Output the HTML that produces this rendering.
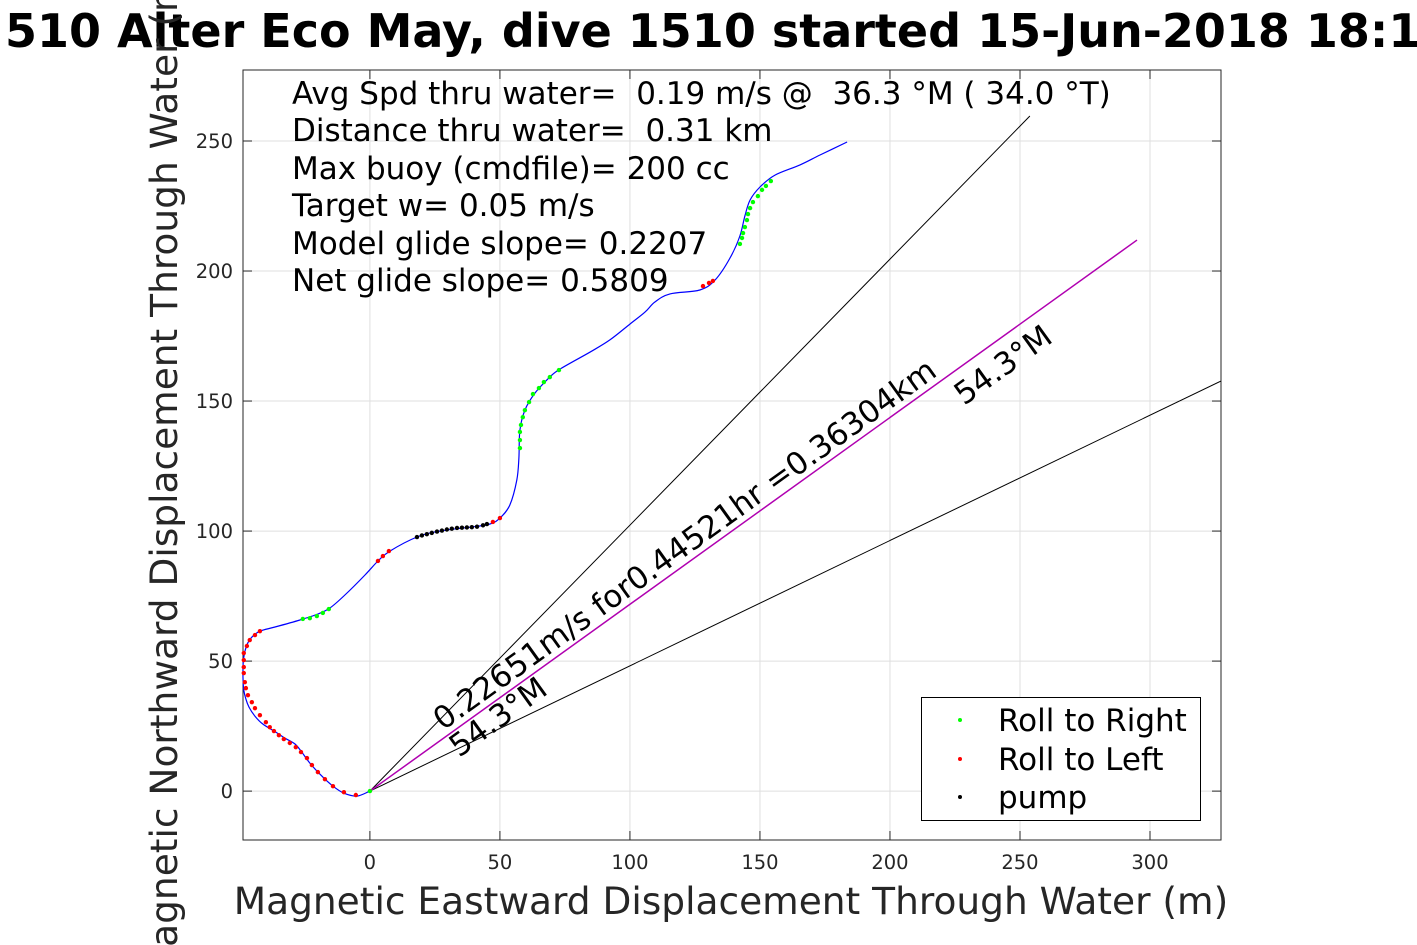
<!DOCTYPE html>
<html><head><meta charset="utf-8"><style>
body{margin:0;background:#fff;}
svg{display:block;}
text{white-space:pre;}
</style></head><body>
<svg id="chart" width="1417" height="945" viewBox="0 0 1417 945" font-family="DejaVu Sans, Liberation Sans, sans-serif">
<text x="5" y="47" font-size="46" font-weight="bold" fill="#000">510 Alter Eco May, dive 1510 started 15-Jun-2018 18:1</text>
<g id="grid"></g>
<g id="axes"></g>
<g id="marks"></g>
<g font-size="31" fill="#000" xml:space="preserve">
<text x="292" y="104">Avg Spd thru water=  0.19 m/s @  36.3 °M ( 34.0 °T)</text>
<text x="292" y="141">Distance thru water=  0.31 km</text>
<text x="292" y="179">Max buoy (cmdfile)= 200 cc</text>
<text x="292" y="216">Target w= 0.05 m/s</text>
<text x="292" y="254">Model glide slope= 0.2207</text>
<text x="292" y="291">Net glide slope= 0.5809</text>
</g>
<text transform="translate(443,731) rotate(-35.7)" font-size="31">0.22651m/s for0.44521hr =0.36304km</text>
<text transform="translate(459,758) rotate(-35.7)" font-size="31">54.3°M</text>
<text transform="translate(964,406) rotate(-35.7)" font-size="31">54.3°M</text>
<text transform="translate(177,470) rotate(-90)" text-anchor="middle" font-size="37.5" fill="#262626">Magnetic Northward Displacement Through Water (m)</text>
<text x="731" y="914" text-anchor="middle" font-size="37.5" fill="#262626">Magnetic Eastward Displacement Through Water (m)</text>
<g>
<rect x="921.5" y="697.5" width="279" height="123" fill="#fff" stroke="#000" stroke-width="1"/>
<g><circle cx="960" cy="720" r="2" fill="#00ff00"/><text x="998" y="731" font-size="31">Roll to Right</text></g>
<g><circle cx="960" cy="759" r="2" fill="#ff0000"/><text x="998" y="770" font-size="31">Roll to Left</text></g>
<g><circle cx="960" cy="797" r="2" fill="#000"/><text x="998" y="808" font-size="31">pump</text></g>
</g>
</svg>
<script>
const xTicks=[0,50,100,150,200,250,300];
const yTicks=[0,50,100,150,200,250];
const trackX=[0,-5,-10,-14.2,-19.2,-23.1,-26.2,-28.8,-32.7,-36.2,-41.2,-44.2,-46.5,-47.7,-48.5,-48.8,-48.8,-48.5,-47.3,-45.4,-42.3,-36.5,-26.9,-20,-15.4,-9.6,-1.9,3.1,7.7,18.1,26.9,38.5,46.2,50,53.8,56.5,57.3,57.7,59.6,63.5,69.2,73.1,84.6,92.3,100,105.8,109.6,115.4,126.9,132.7,138.5,142.3,144.2,146.2,150,155.8,165.4,173.1,183.5];
const trackY=[0,-1.9,-0.8,1.9,6.5,10.8,15,18.1,20.4,22.7,25.8,28.8,32.3,35.4,38.8,43.5,47.3,51.5,56.2,59.2,61.5,63.1,65.8,68.1,70.4,75.4,83.1,88.5,92.3,97.7,100,101.5,102.7,105,110,119.6,128.1,138.8,146.5,153.1,159.2,162.3,168.8,173.5,179.6,184.2,188.1,191.2,192.7,196.5,205,213.5,221.2,227.3,232.3,236.9,240.8,244.6,249.6];
const redX=[-5.4,-10,-14.2,-17.3,-20,-22.3,-24.2,-26.5,-28.5,-30.8,-33.1,-35,-36.9,-38.5,-40,-42.3,-44.2,-45.4,-46.9,-47.7,-48.1,-48.5,-48.5,-48.5,-48.5,-47.3,-46.2,-44.2,-42.3,3.1,5,7.3,47.3,50,128.1,130.4,131.9];
const redY=[-1.5,-0.4,1.9,4.6,7.3,10,12.7,15,16.9,18.5,20,21.5,23.1,24.6,26.5,29.2,31.9,34.2,36.9,39.6,41.9,45.4,47.7,50.4,53.1,55.8,58.1,60,61.5,88.5,90.4,92.3,103.5,105,194.2,195.4,196.2];
const greenX=[0,-25.8,-23.1,-20.4,-18.1,-15.8,57.7,57.7,57.7,58.1,58.8,59.6,61.2,62.7,65,66.9,69.2,72.7,142.3,143.1,143.5,144.2,145,145.4,146.2,147.3,149.2,150.8,152.3,154.2];
const greenY=[0,66.2,66.5,67.3,68.5,70,131.9,135,138.1,140.8,143.8,146.5,149.6,152.7,155,157.3,159.2,161.9,210.4,212.7,214.6,216.9,219.6,221.9,224.2,226.5,228.8,231.2,232.7,234.6];
const pumpX=[18.1,20,21.9,23.8,25.8,27.7,29.6,31.5,33.5,35.4,37.3,39.2,41.2,43.5,45];
const pumpY=[97.7,98.3,98.8,99.3,99.8,100.2,100.6,100.9,101.2,101.3,101.4,101.5,101.7,102.2,102.7];
const lineEndX=[253.8,327.3];
const lineEndY=[259.6,157.7];
const netEndX=[295];
const netEndY=[211.9];

const L=243,R=1221,T=70,B=840;
const xMin=-48.8,xMax=327.3,yMin=-18.8,yMax=277.3;
const sx=v=>L+(v-xMin)/(xMax-xMin)*(R-L);
const sy=v=>B-(v-yMin)/(yMax-yMin)*(B-T);
const NS='http://www.w3.org/2000/svg';
function mk(tag,parent,attrs){const e=document.createElementNS(NS,tag);for(const k in attrs)e.setAttribute(k,attrs[k]);parent.appendChild(e);return e;}
const grid=document.getElementById('grid'),axes=document.getElementById('axes'),marks=document.getElementById('marks');
mk('rect',grid,{x:L,y:T,width:R-L,height:B-T,fill:'#fff'});
xTicks.forEach(t=>{const x=sx(t);
 const g=mk('line',grid,{x1:x,x2:x,y1:T,y2:B,stroke:'#dfdfdf','stroke-width':1});
 
 
 mk('line',axes,{x1:x,x2:x,y1:B,y2:B-9,stroke:'#262626'});
 mk('line',axes,{x1:x,x2:x,y1:T,y2:T+9,stroke:'#262626'});
 const tx=mk('text',axes,{x:x,y:B+29,'text-anchor':'middle','font-size':19.5,fill:'#262626'});
 tx.textContent=t;
 
 
});
yTicks.forEach(t=>{const y=sy(t);
 const g=mk('line',grid,{x1:L,x2:R,y1:y,y2:y,stroke:'#dfdfdf','stroke-width':1});
 
 
 mk('line',axes,{x1:L,x2:L+9,y1:y,y2:y,stroke:'#262626'});
 mk('line',axes,{x1:R,x2:R-9,y1:y,y2:y,stroke:'#262626'});
 const tx=mk('text',axes,{x:L-10,y:y+7,'text-anchor':'end','font-size':19.5,fill:'#262626'});
 tx.textContent=t;
 
 
});
const box=mk('rect',axes,{x:L,y:T,width:R-L,height:B-T,fill:'none',stroke:'#262626','stroke-width':1});


const ox=sx(0),oy=sy(0);
lineEndX.forEach((v,i)=>{const l=mk('line',marks,{x1:ox,y1:oy,x2:sx(v),y2:sy(lineEndY[i]),stroke:'#000','stroke-width':1});
 
 });
netEndX.forEach((v,i)=>{const l=mk('line',marks,{x1:ox,y1:oy,x2:sx(v),y2:sy(netEndY[i]),stroke:'#b000b0','stroke-width':1.5});
 
 });
// smooth Catmull-Rom path through the track
const P=trackX.map((v,i)=>[sx(v),sy(trackY[i])]);
let d='M'+P[0][0].toFixed(1)+','+P[0][1].toFixed(1);
for(let i=0;i<P.length-1;i++){
 const p0=P[Math.max(i-1,0)],p1=P[i],p2=P[i+1],p3=P[Math.min(i+2,P.length-1)];
 const c1=[p1[0]+(p2[0]-p0[0])/6,p1[1]+(p2[1]-p0[1])/6];
 const c2=[p2[0]-(p3[0]-p1[0])/6,p2[1]-(p3[1]-p1[1])/6];
 d+='C'+c1[0].toFixed(1)+','+c1[1].toFixed(1)+' '+c2[0].toFixed(1)+','+c2[1].toFixed(1)+' '+p2[0].toFixed(1)+','+p2[1].toFixed(1);
}
const p=mk('path',marks,{d:d,fill:'none',stroke:'#0000ff','stroke-width':1.2});


function dots(xs,ys,col,name){xs.forEach((v,i)=>{const c=mk('circle',marks,{cx:sx(v),cy:sy(ys[i]),r:2.2,fill:col});
 
 });}
dots(redX,redY,'#ff0000','roll-left-point');
dots(greenX,greenY,'#00ff00','roll-right-point');
dots(pumpX,pumpY,'#000000','pump-point');
</script>
</body></html>
